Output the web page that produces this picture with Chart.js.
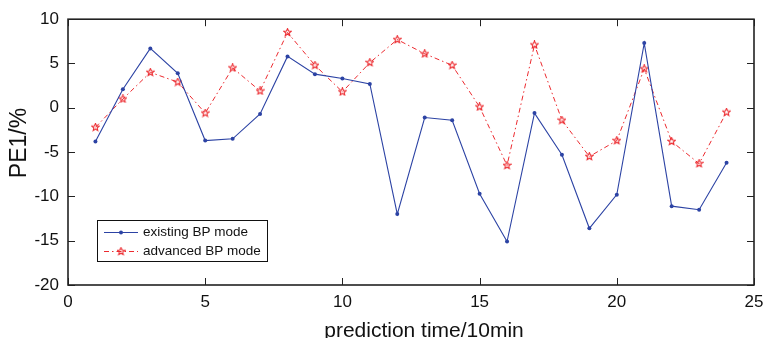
<!DOCTYPE html>
<html>
<head>
<meta charset="utf-8">
<script src="https://cdn.jsdelivr.net/npm/chart.js@4.4.1/dist/chart.umd.min.js"></script>
<style>
  html, body { margin: 0; padding: 0; background: #fff; }
  #wrap { width: 763px; height: 338px; }
</style>
</head>
<body>
<div id="wrap"><canvas id="pe-chart"></canvas></div>
<script>
// ------------------------------------------------------
// @Data
// ------------------------------------------------------
const steps = [1, 2, 3, 4, 5, 6, 7, 8, 9, 10, 11, 12, 13, 14, 15, 16, 17, 18, 19, 20, 21, 22, 23, 24];
const existingBP = [-3.8, 2.1, 6.7, 3.9, -3.7, -3.5, -0.7, 5.8, 3.8, 3.3, 2.7, -12.0, -1.1, -1.4, -9.7, -15.1, -0.6, -5.3, -13.6, -9.8, 7.3, -11.1, -11.5, -6.2];
const advancedBP = [-2.2, 1.0, 4.0, 2.9, -0.6, 4.5, 1.9, 8.5, 4.8, 1.8, 5.1, 7.7, 6.1, 4.8, 0.1, -6.5, 7.1, -1.4, -5.5, -3.7, 4.4, -3.8, -6.3, -0.5];
const xTicks = [0, 5, 10, 15, 20, 25];
const yTicks = [-20, -15, -10, -5, 0, 5, 10];

const BLUE = '#2c43a4';
const RED = '#ec2a2f';
const FONT = '"Liberation Sans", Arial, sans-serif';

// hollow five-point star marker
function makeStar(size, color) {
  const c = document.createElement('canvas');
  c.width = size; c.height = size;
  const g = c.getContext('2d');
  const cx = size / 2, cy = size / 2, ro = size / 2 - 0.6, ri = ro * 0.45;
  g.beginPath();
  for (let i = 0; i < 10; i++) {
    const r = i % 2 ? ri : ro;
    const a = -Math.PI / 2 + i * Math.PI / 5;
    const px = cx + r * Math.cos(a), py = cy + r * Math.sin(a);
    i ? g.lineTo(px, py) : g.moveTo(px, py);
  }
  g.closePath();
  g.strokeStyle = color;
  g.lineWidth = 1.1;
  g.stroke();
  return c;
}
const starMark = makeStar(9, RED);

// ------------------------------------------------------
// @Frame, inward ticks, titles, legend
// ------------------------------------------------------
const matlabAxes = {
  id: 'matlabAxes',
  afterDraw(chart) {
    const { ctx, chartArea: a, scales } = chart;
    const x = scales.x, y = scales.y;
    ctx.save();
    ctx.strokeStyle = '#222';
    ctx.lineWidth = 1;
    const len = 7;
    xTicks.forEach(v => {
      const px = Math.round(x.getPixelForValue(v)) + 0.5;
      ctx.beginPath();
      ctx.moveTo(px, a.bottom); ctx.lineTo(px, a.bottom - len);
      ctx.moveTo(px, a.top); ctx.lineTo(px, a.top + len);
      ctx.stroke();
    });
    yTicks.forEach(v => {
      const py = Math.round(y.getPixelForValue(v)) + 0.5;
      ctx.beginPath();
      ctx.moveTo(a.left, py); ctx.lineTo(a.left + len, py);
      ctx.moveTo(a.right, py); ctx.lineTo(a.right - len, py);
      ctx.stroke();
    });
    ctx.lineWidth = 1.6;
    ctx.strokeRect(a.left, a.top, a.right - a.left, a.bottom - a.top);

    // axis titles
    ctx.fillStyle = '#111';
    ctx.font = '21px ' + FONT;
    ctx.textAlign = 'center';
    ctx.textBaseline = 'alphabetic';
    ctx.fillText('prediction time/10min', 424, 337);
    ctx.save();
    ctx.translate(26, 143);
    ctx.rotate(-Math.PI / 2);
    ctx.font = '23px ' + FONT;
    ctx.fillText('PE1/%', 0, 0);
    ctx.restore();

    // legend box
    const bx = 97, by = 220, bw = 170, bh = 41;
    ctx.fillStyle = '#fff';
    ctx.fillRect(bx, by, bw, bh);
    ctx.lineWidth = 1;
    ctx.strokeStyle = '#111';
    ctx.strokeRect(bx + 0.5, by + 0.5, bw, bh);
    const rows = [232, 251];
    chart.data.datasets.forEach((ds, i) => {
      const ry = rows[i] + 0.5;
      ctx.strokeStyle = ds.borderColor;
      ctx.lineWidth = ds.borderWidth;
      ctx.setLineDash(ds.borderDash || []);
      ctx.beginPath();
      ctx.moveTo(104, ry); ctx.lineTo(138, ry);
      ctx.stroke();
      ctx.setLineDash([]);
      if (ds.pointStyle === 'circle') {
        ctx.fillStyle = ds.pointBackgroundColor;
        ctx.beginPath();
        ctx.arc(121, ry, ds.pointRadius, 0, Math.PI * 2);
        ctx.fill();
      } else {
        ctx.drawImage(ds.pointStyle, 121 - 4.5, ry - 4.5);
      }
      ctx.fillStyle = '#111';
      ctx.font = '13.5px ' + FONT;
      ctx.textAlign = 'left';
      ctx.textBaseline = 'middle';
      ctx.fillText(ds.label, 143, ry);
    });
    ctx.restore();
  },
};

// ------------------------------------------------------
// @Line Chart
// ------------------------------------------------------
const peBox = document.getElementById('pe-chart');

if (peBox) {
  new Chart(peBox.getContext('2d'), {
    type: 'line',
    data: {
      labels: steps,
      datasets: [{
        label                : 'existing BP mode',
        data                 : steps.map((s, i) => ({ x: s, y: existingBP[i] })),
        borderColor          : BLUE,
        backgroundColor      : BLUE,
        pointBackgroundColor : BLUE,
        pointBorderColor     : BLUE,
        pointStyle           : 'circle',
        pointRadius          : 2,
        pointBorderWidth     : 0,
        borderWidth          : 1.1,
        tension              : 0,
      }, {
        label                : 'advanced BP mode',
        data                 : steps.map((s, i) => ({ x: s, y: advancedBP[i] })),
        borderColor          : RED,
        backgroundColor      : RED,
        pointStyle           : starMark,
        pointRadius          : 4,
        borderWidth          : 1,
        borderDash           : [5, 3, 1.5, 3],
        tension              : 0,
      }],
    },
    options: {
      responsive: true,
      maintainAspectRatio: false,
      animation: false,
      layout: { padding: { top: 17, right: 0, left: 0, bottom: 0 } },
      plugins: {
        legend: { display: false },
        tooltip: { enabled: false },
      },
      scales: {
        x: {
          type: 'linear',
          min: 0,
          max: 25,
          afterFit: (s) => { s.height = 53; s.paddingRight = 9; },
          afterBuildTicks: (s) => { s.ticks = xTicks.map(v => ({ value: v })); },
          grid: { display: false, drawTicks: false },
          border: { display: false },
          ticks: {
            color: '#111',
            padding: 7,
            font: { family: FONT, size: 17 },
          },
        },
        y: {
          min: -20,
          max: 10,
          afterFit: (s) => { s.width = 68; },
          afterBuildTicks: (s) => { s.ticks = yTicks.map(v => ({ value: v })); },
          grid: { display: false, drawTicks: false },
          border: { display: false },
          ticks: {
            color: '#111',
            padding: 9,
            font: { family: FONT, size: 17 },
          },
        },
      },
    },
    plugins: [matlabAxes],
  });
}
</script>
</body>
</html>
